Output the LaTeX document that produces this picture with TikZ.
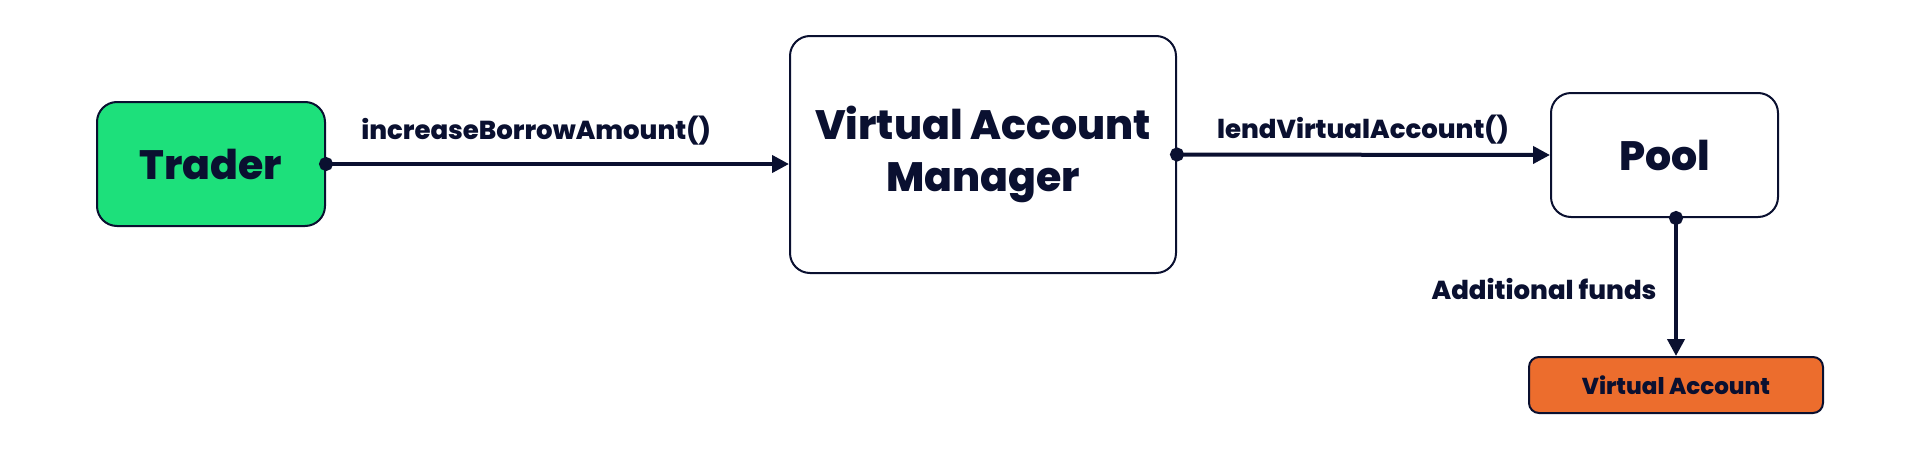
\documentclass[tikz,border=0pt]{standalone}
\usepackage{fontspec}
\setmainfont{Poppins}[BoldFont={* ExtraBold}]
\usetikzlibrary{arrows.meta, positioning}
\definecolor{inkblue}{HTML}{0A1030}
\definecolor{tradergreen}{HTML}{1DE07B}
\definecolor{vaorange}{HTML}{EC6D2D}

\begin{document}
\begin{tikzpicture}[
    x=1pt, y=-1pt,
    font=\bfseries,
    text=inkblue,
    box/.style={draw=inkblue, line width=2pt, rounded corners=20pt, align=center, inner sep=0pt},
    flow/.style={draw=inkblue, line width=4pt, shorten <=-7pt, {Circle[length=14pt]}-{Triangle[length=17pt, width=17pt]}},
    flowlabel/.style={font=\fontsize{26}{32}\selectfont\bfseries},
]
\useasboundingbox (0,0) rectangle (1920,450);

% Boxes
\node[box, fill=tradergreen, minimum width=228pt, minimum height=124pt,
    font=\fontsize{41}{52}\selectfont\bfseries] (trader) at (211,164) {Trader};
\node[box, fill=white, minimum width=386pt, minimum height=237pt,
    font=\fontsize{41}{52}\selectfont\bfseries] (vam) at (983,154.5) {Virtual Account\\Manager};
\node[box, fill=white, minimum width=227pt, minimum height=124pt,
    font=\fontsize{41}{52}\selectfont\bfseries] (pool) at (1664.5,155) {Pool};
\node[box, fill=vaorange, rounded corners=10pt, minimum width=294pt, minimum height=56pt,
    font=\fontsize{23}{28}\selectfont\bfseries] (vacc) at (1676,385) {Virtual Account};

% Connectors
\draw[flow] (trader.east) -- (trader.east -| vam.west);
\draw[flow] (vam.east) -- (pool.west);
\draw[flow] (pool.south -| vacc.north) -- (vacc.north);

% Labels
\node[flowlabel] (borrowlbl) at (536,131) {increaseBorrowAmount()};
\node[flowlabel] (lendlbl) at (1363,130) {lendVirtualAccount()};
\node[flowlabel, anchor=east] (fundslbl) at (1660,289) {Additional funds};

\end{tikzpicture}
\end{document}
